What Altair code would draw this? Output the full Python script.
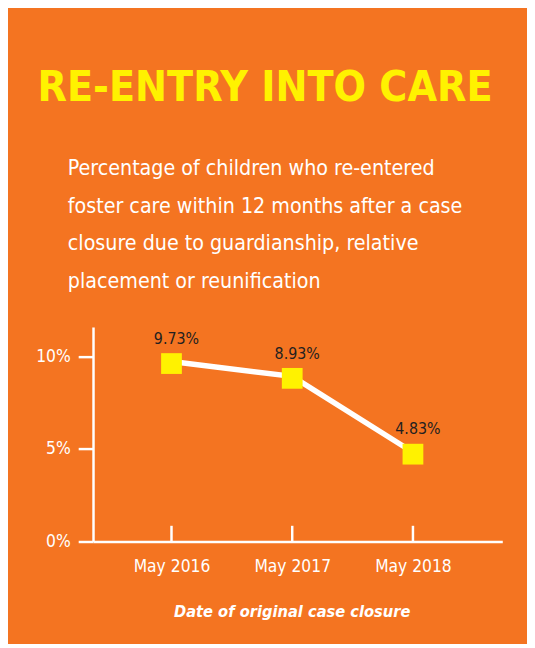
import altair as alt
import pandas as pd

# ---- data ----
months = ["May 2016", "May 2017", "May 2018"]
rates = [9.73, 8.93, 4.83]
rate_labels = ["9.73%", "8.93%", "4.83%"]

title_text = "RE-ENTRY INTO CARE"
subtitle_lines = [
    "Percentage of children who re-entered",
    "foster care within 12 months after a case",
    "closure due to guardianship, relative",
    "placement or reunification",
]
x_title = "Date of original case closure"
y_ticks = [0, 5, 10]

ORANGE = "#F47421"
YELLOW = "#FFF200"
WHITE = "#FFFFFF"
DARK = "#231F20"
FONT = "DejaVu Sans Condensed, sans-serif"

df = pd.DataFrame({
    "idx": list(range(len(months))),
    "month": months,
    "rate": rates,
    "label": rate_labels,
    "tick_lo": [0.0] * len(months),
    "tick_hi": [0.85] * len(months),
})

label_expr = "[" + ",".join("'" + m + "'" for m in months) + "][datum.value]"

x_scale = alt.Scale(domain=[-0.65, 2.74], nice=False, zero=False)
y_scale = alt.Scale(domain=[0, 11.6], nice=False)

x_enc = alt.X(
    "idx:Q",
    scale=x_scale,
    axis=alt.Axis(
        values=[0, 1, 2],
        labelExpr=label_expr,
        title=x_title,
        titleFont=FONT,
        titleFontSize=16.5,
        titleFontWeight="bold",
        titleFontStyle="italic",
        titleColor=WHITE,
        titleX=201,
        titleY=76,
        titleAnchor="start",
        titleAlign="center",
        titleBaseline="alphabetic",
        labelFont=FONT,
        labelFontSize=17.5,
        labelColor=WHITE,
        labelPadding=16,
        labelBaseline="top",
        ticks=False,
        tickSize=0,
        grid=False,
        domainColor=WHITE,
        domainWidth=2.5,
    ),
)

y_enc = alt.Y(
    "rate:Q",
    scale=y_scale,
    axis=alt.Axis(
        values=y_ticks,
        labelExpr="datum.value + '%'",
        title=subtitle_lines,
        titleFont=FONT,
        titleFontSize=21.5,
        titleFontWeight="normal",
        titleColor=WHITE,
        titleAngle=0,
        titleAlign="left",
        titleBaseline="alphabetic",
        titleAnchor="start",
        titleX=-26,
        titleY=-154,
        titleLineHeight=38,
        labelFont=FONT,
        labelFontSize=17.5,
        labelColor=WHITE,
        labelPadding=8,
        tickSize=15,
        tickWidth=2.5,
        tickColor=WHITE,
        grid=False,
        domainColor=WHITE,
        domainWidth=2.5,
    ),
)

base = alt.Chart(df)

xticks = base.mark_rule(color=WHITE, strokeWidth=2.5).encode(
    x=alt.X("idx:Q", scale=x_scale),
    y=alt.Y("tick_lo:Q", scale=y_scale),
    y2="tick_hi:Q",
)

line = base.mark_line(color=WHITE, strokeWidth=5.5).encode(x=x_enc, y=y_enc)

points = base.mark_point(
    shape="square", filled=True, color=YELLOW, opacity=1, size=441
).encode(x="idx:Q", y="rate:Q", yOffset=alt.value(2))

labels = base.mark_text(
    font=FONT, fontSize=16, color=DARK, dx=5, dy=-18, baseline="alphabetic", align="center"
).encode(x="idx:Q", y="rate:Q", text="label:N")

chart = (
    alt.layer(line, xticks, points, labels)
    .properties(
        width=414,
        height=217,
        padding={"left": 86, "top": 319, "right": 25, "bottom": 100},
        autosize=alt.AutoSizeParams(type="none"),
        background=ORANGE,
        title=alt.TitleParams(
            text=title_text,
            font=FONT,
            fontSize=43,
            fontWeight="bold",
            color=YELLOW,
            anchor="middle",
            dx=-33,
            baseline="alphabetic",
            offset=15,
        ),
    )
    .configure_view(stroke=None)
)

chart.save("out.html", embed_options={"renderer": "svg", "actions": False})
